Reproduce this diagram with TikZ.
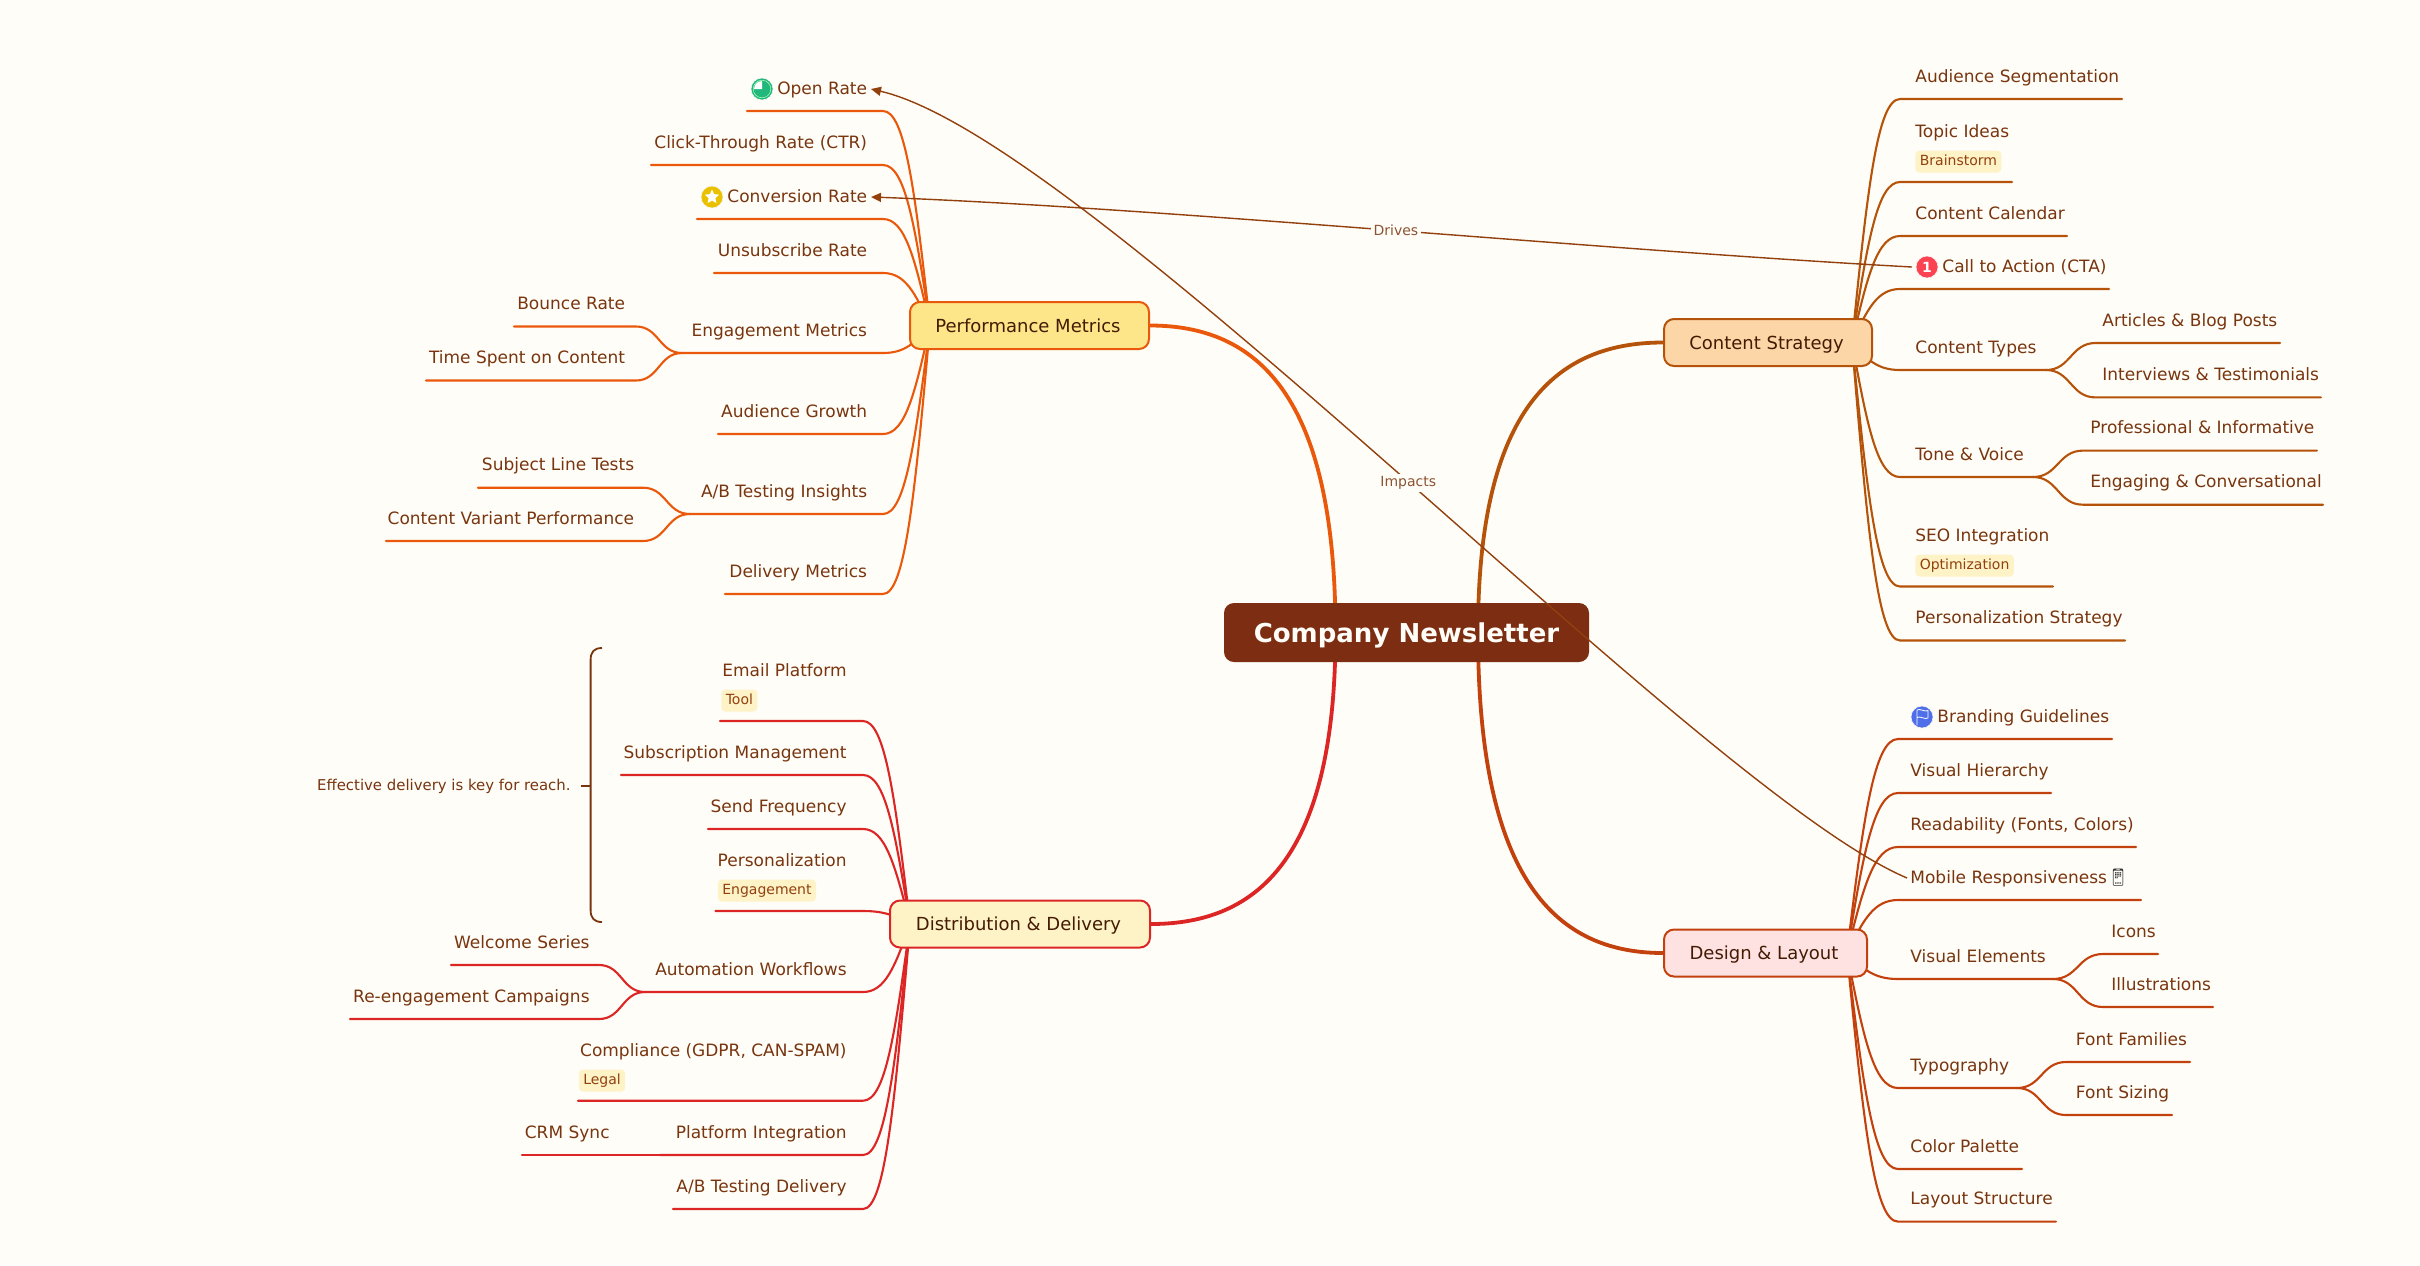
\documentclass[tikz,border=0pt]{standalone}
\usepackage{fontspec}
\setmainfont{DejaVu Sans}
\newfontfamily\emofont{Noto Emoji}
\usetikzlibrary{calc,arrows.meta,shapes.geometric}
\definecolor{paper}{HTML}{FFFDF7}
\definecolor{ink}{HTML}{78350F}
\definecolor{rootc}{HTML}{7C2D12}
\definecolor{boxink}{HTML}{451A03}
\definecolor{relink}{HTML}{92400E}
\definecolor{perfc}{HTML}{EA580C}
\definecolor{distc}{HTML}{DC2626}
\definecolor{contc}{HTML}{B45309}
\definecolor{desc}{HTML}{C2410C}
\definecolor{tagf}{HTML}{FEF3C7}
\definecolor{perff}{HTML}{FDE68A}
\definecolor{contf}{HTML}{FDD6A8}
\definecolor{desf}{HTML}{FEE2E2}
\pgfdeclarelayer{paperlayer}
\pgfdeclarelayer{edges}
\pgfsetlayers{paperlayer,edges,main}
\tikzset{
  x=0.5pt,y=-0.5pt,
  leaf/.style={text=ink,font=\fontsize{8.5}{10}\selectfont,inner sep=0pt},
  rootbox/.style={fill=rootc,text=paper,rounded corners=5pt,font=\fontsize{13}{15}\selectfont\bfseries,minimum width=182.5pt,minimum height=29.5pt,inner sep=0pt,text height=9.5pt,text depth=0pt},
  branch/.style={text=boxink,rounded corners=5pt,line width=1pt,font=\fontsize{9}{11}\selectfont,minimum height=23.5pt,inner sep=0pt,text height=6.8pt,text depth=0.2pt},
  tagbox/.style={fill=tagf,text=relink,rounded corners=2pt,font=\fontsize{7}{8}\selectfont,inner xsep=2.2pt,inner ysep=0pt,minimum height=11pt,text height=5.4pt,text depth=1.4pt,anchor=west},
  wire/.style={line width=1.05pt,line cap=round},
  trunkline/.style={line width=1.9pt},
  rel/.style={draw=relink,line width=0.7pt,-{Triangle[length=5pt,width=4.5pt]}},
  rellabel/.style={fill=paper,text=ink!85,font=\fontsize{7}{8}\selectfont,inner sep=1.2pt},
  icon/.style={circle,minimum size=11pt,inner sep=0pt,draw=white!92!gray,line width=0.3pt},
}
% left-hand topic: name, text, text right edge, underline y, far end, near end
\newcommand{\lfL}[7][17]{%
  \node[leaf,anchor=base east] (#2) at ($(#4,#5)+(0,-#1)$) {#3};
  \coordinate (#2a) at (#7,#5);
  \coordinate (#2b) at (#6,#5);}
% right-hand topic
\newcommand{\lfR}[7][17]{%
  \node[leaf,anchor=base west] (#2) at ($(#4,#5)+(0,-#1)$) {#3};
  \coordinate (#2a) at (#7,#5);
  \coordinate (#2b) at (#6,#5);}
% connector from a hub into a topic's underline
\newcommand{\wireto}[3]{%
  \draw[wire,#1] (#2) .. controls ($(#2)!.32!(#3a|-#2)+(#2)!.63!(#2|-#3a)-(#2)$) and ($(#3a)!.47!(#3a-|#2)$) .. (#3a) -- (#3b);}
% S-shaped connector from a topic to a sub-topic
\newcommand{\twig}[3]{%
  \draw[wire,#1] (#2b) .. controls ($(#2b)!.5!(#2b-|#3a)$) and ($(#3a)!.5!(#3a-|#2b)$) .. (#3a) -- (#3b);}
% thick connector from a main topic to the central topic
\newcommand{\trunk}[3]{%
  \draw[trunkline,#1] (#2) .. controls ($(#2)!.57!(#2-|#3)$) and ($(#3)!.78!(#3|-#2)$) .. (#3);}
\begin{document}
\begin{tikzpicture}
\useasboundingbox (0,0) rectangle (2420,1265);
\begin{pgfonlayer}{paperlayer}
\fill[paper] (0,0) rectangle (2420,1265);
\end{pgfonlayer}

% central and main topics
\node[rootbox] (root) at (1406.5,632.5) {Company Newsletter};
\node[branch,draw=perfc,fill=perff,minimum width=119.5pt] (pm) at (1029.5,325.5) {\hspace*{-1.5pt}Performance Metrics};
\node[branch,draw=distc,fill=tagf,minimum width=130pt] (dd) at (1020,924) {\hspace*{-1.5pt}Distribution \& Delivery};
\node[branch,draw=contc,fill=contf,minimum width=104pt] (cs) at (1768,342.5) {\hspace*{-1.5pt}Content Strategy};
\node[branch,draw=desc,fill=desf,minimum width=101.5pt] (dl) at (1765.5,953) {\hspace*{-1.5pt}Design \& Layout};

\coordinate (rootL) at (1335.5,632.5);
\coordinate (rootR) at (1478,632.5);
\coordinate (pmh) at (930,325.5);
\coordinate (ddh) at (910,924);
\coordinate (csh) at (1852,342.5);
\coordinate (dlh) at (1847,953);

% Performance Metrics topics
\lfL{p1}{Open Rate}{867.5}{111}{747}{883}
\lfL{p2}{Click-Through Rate (CTR)}{867.5}{165}{651}{883}
\lfL{p3}{Conversion Rate}{867.5}{219}{697}{883}
\lfL{p4}{Unsubscribe Rate}{867.5}{273}{714}{883}
\lfL{p5}{Engagement Metrics}{867.5}{353}{682}{883}
\lfL{p6}{Audience Growth}{867.5}{434}{718}{883}
\lfL{p7}{A/B Testing Insights}{867.5}{514}{690}{883}
\lfL{p8}{Delivery Metrics}{867.5}{594}{725}{883}
\lfL{p51}{Bounce Rate}{625.5}{326.5}{514}{636}
\lfL{p52}{Time Spent on Content}{625.5}{380.5}{426}{636}
\lfL{p71}{Subject Line Tests}{634.5}{487.7}{478}{643}
\lfL{p72}{Content Variant Performance}{634.5}{541}{386}{643}

% Distribution topics
\lfL[45]{d1}{Email Platform}{847}{721}{720}{863}
\lfL{d2}{Subscription Management}{847}{775}{621}{863}
\lfL{d3}{Send Frequency}{847}{829}{708}{863}
\lfL[45]{d4}{Personalization}{847}{911}{715.5}{863}
\lfL{d5}{Automation Workflows}{847}{992}{645}{863}
\lfL[44]{d6}{Compliance (GDPR, CAN-SPAM)}{847}{1100.7}{578}{863}
\lfL{d7}{Platform Integration}{847}{1155}{660}{863}
\lfL{d8}{A/B Testing Delivery}{847}{1209}{673}{863}
\lfL{d51}{Welcome Series}{590}{965}{451}{599}
\lfL{d52}{Re-engagement Campaigns}{590}{1019}{350}{599}
\lfL{d71}{CRM Sync}{610}{1155}{522}{660}
\node[tagbox] (t1) at (721,700.5) {Tool};
\node[tagbox] (t2) at (717.5,890.5) {Engagement};
\node[tagbox] (t3) at (578.5,1080.5) {Legal};

% Content Strategy topics
\lfR{c1}{Audience Segmentation}{1915}{99}{2122}{1900}
\lfR[45]{c2}{Topic Ideas}{1915}{182}{2012}{1900}
\lfR{c3}{Content Calendar}{1915}{236}{2067}{1900}
\lfR{c4}{Call to Action (CTA)}{1942}{289}{2109}{1900}
\lfR{c5}{Content Types}{1915}{370}{2046}{1900}
\lfR{c6}{Tone \& Voice}{1915}{477}{2033}{1900}
\lfR[45]{c7}{SEO Integration}{1915}{586.5}{2053}{1900}
\lfR{c8}{Personalization Strategy}{1915}{640.5}{2125}{1900}
\lfR{c51}{Articles \& Blog Posts}{2102}{343}{2280}{2095.5}
\lfR{c52}{Interviews \& Testimonials}{2102}{397.4}{2321}{2095.5}
\lfR{c61}{Professional \& Informative}{2090}{450.6}{2317}{2083}
\lfR{c62}{Engaging \& Conversational}{2090}{504.7}{2323}{2083}
\node[tagbox] (t4) at (1915,161.5) {Brainstorm};
\node[tagbox] (t5) at (1915,565.5) {Optimization};

% Design topics
\lfR{g1}{Branding Guidelines}{1937}{739}{2112}{1898}
\lfR{g2}{Visual Hierarchy}{1910}{793}{2051}{1898}
\lfR{g3}{Readability (Fonts, Colors)}{1910}{847}{2136}{1898}
\lfR{g4}{Mobile Responsiveness\hspace{0.2pt}{\color{black!80}\emofont 📱}}{1910}{900}{2141}{1898}
\lfR{g5}{Visual Elements}{1910}{979}{2053}{1898}
\lfR{g6}{Typography}{1910}{1088}{2017}{1898}
\lfR{g7}{Color Palette}{1910}{1169}{2022}{1898}
\lfR{g8}{Layout Structure}{1910}{1221.6}{2056}{1898}
\lfR{g51}{Icons}{2111}{954}{2158}{2103}
\lfR{g52}{Illustrations}{2111}{1007}{2213}{2103}
\lfR{g61}{Font Families}{2075.5}{1062}{2190}{2066}
\lfR{g62}{Font Sizing}{2075.5}{1115}{2172}{2066}

% connectors
\begin{pgfonlayer}{edges}
\trunk{perfc}{pm.east}{rootL}
\trunk{distc}{dd.east}{rootL}
\trunk{contc}{cs.west}{rootR}
\trunk{desc}{dl.west}{rootR}
\foreach \n in {p1,p2,p3,p4,p5,p6,p7,p8}{\wireto{perfc}{pmh}{\n}}
\foreach \n in {d1,d2,d3,d4,d5,d6,d7,d8}{\wireto{distc}{ddh}{\n}}
\foreach \n in {c1,c2,c3,c4,c5,c6,c7,c8}{\wireto{contc}{csh}{\n}}
\foreach \n in {g1,g2,g3,g4,g5,g6,g7,g8}{\wireto{desc}{dlh}{\n}}
\twig{perfc}{p5}{p51}\twig{perfc}{p5}{p52}
\twig{perfc}{p7}{p71}\twig{perfc}{p7}{p72}
\twig{distc}{d5}{d51}\twig{distc}{d5}{d52}
\draw[wire,distc] (d7b) -- (d71b);
\twig{contc}{c5}{c51}\twig{contc}{c5}{c52}
\twig{contc}{c6}{c61}\twig{contc}{c6}{c62}
\twig{desc}{g5}{g51}\twig{desc}{g5}{g52}
\twig{desc}{g6}{g61}\twig{desc}{g6}{g62}
\end{pgfonlayer}

% icons
\node[icon,fill={rgb,255:red,34;green,184;blue,125}] (iopen) at (762,89) {};
\draw[white!70!green,line width=0.25pt] (iopen.center) circle[radius=4.4pt];
\fill[white] (iopen.center) -- +(-4pt,0pt) arc[start angle=180,end angle=90,radius=4pt] -- cycle;
\node[icon,fill={rgb,255:red,234;green,193;blue,0}] (iconv) at (712,197) {};
\node[star,star points=5,star point ratio=2.1,fill=white,inner sep=0pt,minimum size=7.5pt] (istar) at (712,197) {};
\node[icon,fill={rgb,255:red,251;green,67;blue,82},text=white,font=\fontsize{7}{8}\selectfont\bfseries] (icta) at (1927,267) {1};
\node[icon,fill={rgb,255:red,79;green,111;blue,232}] (iflag) at (1922,717) {};
\draw[white,line width=0.4pt,line join=round] (1917,725) -- (1917,710) .. controls (1920,708) and (1925,712.5) .. (1928,710.5) -- (1928,718) .. controls (1925,720) and (1920,715.5) .. (1917,717.5);

% summary
\coordinate (brT) at (602,648);
\coordinate (brB) at (602,922);
\coordinate (brM) at (590.6,786);
\coordinate (brTick) at (581,786);
\draw[ink,line width=0.9pt] (brT) .. controls (594,648) and (590.6,652) .. (590.6,660) -- (590.6,910) .. controls (590.6,918) and (594,922) .. (brB);
\draw[ink,line width=0.9pt] (brM) -- (brTick);
\node[anchor=east,text=ink,font=\fontsize{7.45}{9}\selectfont,inner sep=0pt] (note) at (571,786) {Effective delivery is key for reach.};

% relationships
\coordinate (toOpen) at (871,89);
\coordinate (toConv) at (871,197);
\coordinate (fromCta) at (1912,267);
\coordinate (fromMob) at (1907,878);
\draw[rel] (fromCta) .. controls (1600,250) and (1150,207) .. node[pos=0.485,rellabel] (drives) {Drives} (toConv);
\draw[rel] (fromMob) .. controls (1700,790) and (1090,140) .. node[pos=0.488,rellabel] (impacts) {Impacts} (toOpen);
\end{tikzpicture}
\end{document}
